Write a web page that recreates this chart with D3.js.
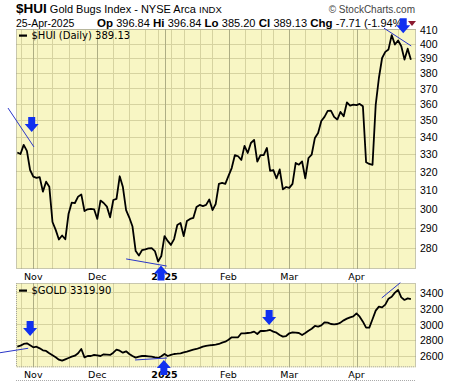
<!DOCTYPE html>
<html><head><meta charset="utf-8">
<script src="https://cdn.jsdelivr.net/npm/d3@7"></script>
<style>
body{margin:0;background:#fff;}
svg{display:block;}
</style>
</head><body>
<svg id="c" width="460" height="383"></svg>
<script>
// ---- data ----
const dates = [
"2024-10-25","2024-10-28","2024-10-29","2024-10-30","2024-10-31",
"2024-11-01","2024-11-04","2024-11-05","2024-11-06","2024-11-07","2024-11-08","2024-11-11","2024-11-12","2024-11-13","2024-11-14","2024-11-15","2024-11-18","2024-11-19","2024-11-20","2024-11-21","2024-11-22","2024-11-25","2024-11-26","2024-11-27","2024-11-29",
"2024-12-02","2024-12-03","2024-12-04","2024-12-05","2024-12-06","2024-12-09","2024-12-10","2024-12-11","2024-12-12","2024-12-13","2024-12-16","2024-12-17","2024-12-18","2024-12-19","2024-12-20","2024-12-23","2024-12-24","2024-12-26","2024-12-27","2024-12-30","2024-12-31",
"2025-01-02","2025-01-03","2025-01-06","2025-01-07","2025-01-08","2025-01-10","2025-01-13","2025-01-14","2025-01-15","2025-01-16","2025-01-17","2025-01-21","2025-01-22","2025-01-23","2025-01-24","2025-01-27","2025-01-28","2025-01-29","2025-01-30","2025-01-31",
"2025-02-03","2025-02-04","2025-02-05","2025-02-06","2025-02-07","2025-02-10","2025-02-11","2025-02-12","2025-02-13","2025-02-14","2025-02-18","2025-02-19","2025-02-20","2025-02-21","2025-02-24","2025-02-25","2025-02-26","2025-02-27","2025-02-28",
"2025-03-03","2025-03-04","2025-03-05","2025-03-06","2025-03-07","2025-03-10","2025-03-11","2025-03-12","2025-03-13","2025-03-14","2025-03-17","2025-03-18","2025-03-19","2025-03-20","2025-03-21","2025-03-24","2025-03-25","2025-03-26","2025-03-27","2025-03-28","2025-03-31",
"2025-04-01","2025-04-02","2025-04-03","2025-04-04","2025-04-07","2025-04-08","2025-04-09","2025-04-10","2025-04-11","2025-04-14","2025-04-15","2025-04-16","2025-04-17","2025-04-21","2025-04-22","2025-04-23","2025-04-24","2025-04-25"
];
const hui = [
331.0,330.1,335.4,331.9,321.0,
317.3,316.6,317.0,309.1,314.5,311.8,293.1,289.1,284.3,286.3,284.4,297.2,303.2,303.0,306.4,307.6,298.8,299.7,299.9,299.7,
294.7,304.3,303.0,301.1,295.5,304.6,305.2,317.5,311.6,299.3,295.4,290.8,278.6,276.4,279.1,279.4,279.9,280.0,278.6,273.6,276.2,
286.0,283.6,281.6,284.5,291.6,292.6,286.0,293.6,294.7,295.2,300.9,302.0,301.4,302.0,304.9,299.3,302.5,313.3,313.8,313.3,
317.7,322.1,329.5,328.8,326.7,334.8,330.7,336.5,338.3,325.7,329.5,329.5,333.6,320.5,321.0,316.3,321.3,310.3,311.6,
311.1,313.3,325.0,324.0,325.8,316.3,327.8,329.8,339.5,342.5,349.7,352.2,355.9,356.1,352.2,350.6,355.3,352.6,361.2,359.2,359.8,
359.5,360.3,358.8,325.4,324.4,323.9,359.7,377.0,390.4,394.6,396.3,406.3,399.7,402.5,398.5,389.3,396.84,389.13
];
const gold = [
2723,2736,2757,2765,2740,
2715,2723,2702,2677,2669,2640,2614,2589,2560,2547,2564,2581,2598,2610,2640,2694,2589,2606,2606,2619,
2614,2606,2627,2623,2619,2648,2686,2673,2648,2665,2631,2606,2585,2598,2606,2606,2602,2598,2589,2581,2602,
2631,2606,2619,2631,2635,2640,2652,2660,2673,2686,2694,2707,2723,2732,2740,2744,2749,2757,2774,2786,
2811,2841,2841,2841,2891,2891,2895,2899,2912,2882,2920,2920,2924,2933,2912,2899,2870,2849,2857,
2891,2903,2899,2895,2870,2895,2924,2949,2983,2975,2991,3029,3025,3008,3004,3008,3025,3054,3075,3092,3104,
3142,3100,3037,2962,2962,3067,3176,3226,3217,3251,3326,3351,3402,3435,3343,3310,3330,3319.9
];
const huiTicks = [280,290,300,310,320,330,340,350,360,370,380,390,400,410];
const goldTicks = [2600,2800,3000,3200,3400];
const huiDomain = [270, 410.7];
const goldDomain = [2464, 3523];
// annotation arrows (fractional bar index, value at tip)
const huiArrows = [{i:4.5, v:343, dir:"down"}, {i:120.6, v:407.7, dir:"down"}, {i:44.9, v:271.7, dir:"up"}];
const goldArrows = [{i:4.0, v:2857, dir:"down"}, {i:45.8, v:2556, dir:"up"}, {i:78.7, v:2995, dir:"down"}];
const huiTrend = [[-2.9,357.7,5.2,334.2],[114.6,411.3,123.1,398.7],[34,274.8,46.7,271.4]];
const goldTrend = [[-5.4,2647,3.4,2703],[36.8,2556,46.8,2581],[113.9,3335,119.7,3527]];

// ---- layout ----
const svg = d3.select("#c");
const L = 16, R = 416;
const topP = {y0:29, y1:269};
const botP = {y0:283, y1:367.3};
const x = d3.scaleLinear().domain([0, dates.length-1]).range([17.3, 410.9]);
const yH = d3.scaleLog().domain(huiDomain).range([topP.y1, topP.y0]);
const yG = d3.scaleLinear().domain(goldDomain).range([botP.y1, botP.y0]);

const parse = d3.timeParse("%Y-%m-%d");
const pd = dates.map(parse);
// month starts and week starts
const monthStarts = [], weekStarts = [];
pd.forEach((d,i)=>{
  if(i===0) return;
  if(d.getMonth()!==pd[i-1].getMonth()) monthStarts.push(i);
  else if(d.getDay() < pd[i-1].getDay()) weekStarts.push(i);
});

const BG = "#f8f6c4", GRID = "#d6d3a0", MGRID = "#aeae84";

function panel(p, yScale, ticks, values, fmt){
  const g = svg.append("g");
  g.append("rect").attr("x",L).attr("y",p.y0).attr("width",R-L).attr("height",p.y1-p.y0).attr("fill",BG);
  g.selectAll(".hg").data(ticks).join("line")
    .attr("x1",L).attr("x2",R).attr("y1",d=>yScale(d)).attr("y2",d=>yScale(d))
    .attr("stroke",GRID).attr("stroke-width",1).attr("shape-rendering","crispEdges");
  g.selectAll(".wg").data(weekStarts).join("line")
    .attr("x1",d=>Math.round(x(d))+0.5).attr("x2",d=>Math.round(x(d))+0.5).attr("y1",p.y0).attr("y2",p.y1)
    .attr("stroke",GRID).attr("stroke-width",1);
  g.selectAll(".mg").data(monthStarts).join("line")
    .attr("x1",d=>Math.round(x(d))+0.5).attr("x2",d=>Math.round(x(d))+0.5).attr("y1",p.y0).attr("y2",p.y1)
    .attr("stroke",MGRID).attr("stroke-width",1);
  g.append("rect").attr("x",L+0.5).attr("y",p.y0+0.5).attr("width",R-L-1).attr("height",p.y1-p.y0-1)
    .attr("fill","none").attr("stroke","#999").attr("stroke-dasharray","1,1");
  // right axis
  const ax = d3.axisRight(yScale).tickValues(ticks).tickSize(0).tickPadding(4).tickFormat(fmt);
  const a = svg.append("g").attr("transform",`translate(${R},0)`).call(ax);
  a.select(".domain").remove();
  a.selectAll("text").attr("font-family","Liberation Sans, Arial, sans-serif").attr("font-size","10.5px").attr("fill","#000");
  // line
  g.append("path").datum(values)
    .attr("d", d3.line().x((d,i)=>x(i)).y(d=>yScale(d)))
    .attr("fill","none").attr("stroke","#000").attr("stroke-width",1.8).attr("stroke-linejoin","round");
  return g;
}

panel(topP, yH, huiTicks, hui, d3.format("d"));
panel(botP, yG, goldTicks, gold, d3.format("d"));

// month labels
function monthLabels(yb){
  svg.append("g").selectAll("text").data(monthStarts).join("text")
    .attr("x",d=>x(d)).attr("y",yb).attr("text-anchor","middle")
    .attr("font-family","DejaVu Sans, Verdana, sans-serif").attr("font-size","9.5px")
    .attr("font-weight",d=>pd[d].getMonth()===0?"bold":"normal")
    .text(d=>pd[d].getMonth()===0 ? d3.timeFormat("%Y")(pd[d]) : d3.timeFormat("%b")(pd[d]));
}
monthLabels(279.5);
monthLabels(378);
svg.append("line").attr("x1",L).attr("x2",R).attr("y1",380.5).attr("y2",380.5).attr("stroke","#aaa").attr("stroke-dasharray","1,1");

// trend lines
function trends(data, yScale){
  svg.append("g").selectAll("line").data(data).join("line")
    .attr("x1",d=>x(d[0])).attr("y1",d=>yScale(d[1])).attr("x2",d=>x(d[2])).attr("y2",d=>yScale(d[3]))
    .attr("stroke","#2a36c8").attr("stroke-width",1);
}
trends(huiTrend, yH);
trends(goldTrend, yG);

// arrows
function arrows(data, yScale){
  const shape = "M0,0 L-7,-8 L-3.5,-8 L-3.5,-15 L3.5,-15 L3.5,-8 L7,-8 Z";
  svg.append("g").selectAll("path").data(data).join("path")
    .attr("d",shape)
    .attr("transform",d=>`translate(${x(d.i)},${yScale(d.v)})${d.dir==="up"?" rotate(180)":""}`)
    .attr("fill","#1030f0");
}

// legends
function legend(y, label){
  svg.append("rect").attr("x",19).attr("y",y-4).attr("width",8).attr("height",2.2).attr("fill","#000");
  svg.append("text").attr("x",31.5).attr("y",y).attr("font-family","DejaVu Sans, Verdana, sans-serif")
    .attr("font-size","10px").attr("fill","#000").text(label);
}
legend(38.5, "$HUI (Daily) 389.13");
legend(293.5, "$GOLD 3319.90");

// header
const hdr = svg.append("g").attr("font-family","Liberation Sans, Arial, sans-serif");
const t1 = hdr.append("text").attr("x",16).attr("y",12.5);
t1.append("tspan").attr("font-weight","bold").attr("font-size","13.5px").text("$HUI");
t1.append("tspan").attr("font-size","11px").text(" Gold Bugs Index - NYSE Arca ");
t1.append("tspan").attr("font-size","9.5px").text("INDX");
hdr.append("text").attr("x",415).attr("y",12.5).attr("text-anchor","end").attr("font-size","10px").attr("fill","#444").text("\u00A9 StockCharts.com");
hdr.append("text").attr("x",16).attr("y",26.5).attr("font-size","10.5px").text("25-Apr-2025");
const t2 = hdr.append("text").attr("x",97).attr("y",26.5).attr("font-size","11px");
[["Op","396.84"],["Hi","396.84"],["Lo","385.20"],["Cl","389.13"],["Chg","-7.71 (-1.94%)"]].forEach((p,k)=>{
  t2.append("tspan").attr("font-weight","bold").attr("font-size","11.5px").text((k?" ":"")+p[0]+" ");
  t2.append("tspan").text(p[1]);
});
svg.append("path").attr("d","M408,21 L416,21 L412,26 Z").attr("fill","#8b1a30");

arrows(huiArrows, yH);
arrows(goldArrows, yG);
</script>
</body></html>
